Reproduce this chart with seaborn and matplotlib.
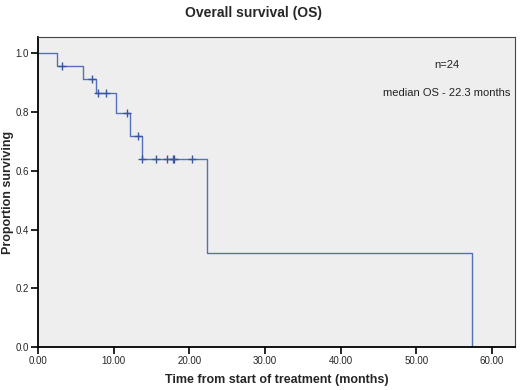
import matplotlib
matplotlib.use('Agg')
import matplotlib.pyplot as plt
import seaborn as sns
import pandas as pd
from matplotlib.ticker import FormatStrFormatter, MultipleLocator

# --- Dados ---
step_times = [0.0, 2.5, 5.9, 7.7, 10.3, 12.1, 13.7, 22.3, 57.4]
step_surv = [1.0, 0.958, 0.912, 0.863, 0.795, 0.720, 0.641, 0.320, 0.0]
censor_times = [3.2, 7.1, 7.9, 9.0, 11.7, 13.2, 13.8, 15.6, 17.0, 17.8, 18.0, 20.3]
censor_surv = [0.958, 0.912, 0.863, 0.863, 0.795, 0.720, 0.641, 0.641, 0.641, 0.641, 0.641, 0.641]
n_patients = 24
median_os = 22.3

df_steps = pd.DataFrame({'t': step_times, 's': step_surv})
df_cens = pd.DataFrame({'t': censor_times, 's': censor_surv})

sns.set_theme(style="ticks")
plt.rcParams['font.family'] = ['Liberation Sans', 'DejaVu Sans']

fig = plt.figure(figsize=(5.2, 3.9), dpi=100)
ax = fig.add_axes([0.073, 0.110, 0.917, 0.795])
ax.set_facecolor('#eeeeee')

line_color = '#5470b8'
sns.lineplot(data=df_steps, x='t', y='s', drawstyle='steps-post', sort=False,
             color=line_color, linewidth=1.0, ax=ax, estimator=None)
sns.scatterplot(data=df_cens, x='t', y='s', marker='+', s=30, color='#3a55a0',
                linewidth=1.0, ax=ax, zorder=3)

ax.set_xlim(0, 63.0)
ax.set_ylim(0, 1.055)
ax.xaxis.set_major_locator(MultipleLocator(10))
ax.yaxis.set_major_locator(MultipleLocator(0.2))
ax.xaxis.set_major_formatter(FormatStrFormatter('%.2f'))
ax.yaxis.set_major_formatter(FormatStrFormatter('%.1f'))
ax.tick_params(axis='both', labelsize=7, length=5, width=1.2, color='black', direction='out', pad=1.5)

for side in ['left', 'bottom']:
    ax.spines[side].set_color('black')
    ax.spines[side].set_linewidth(1.3)
for side in ['top', 'right']:
    ax.spines[side].set_color('#444444')
    ax.spines[side].set_linewidth(0.8)

ax.set_xlabel('Time from start of treatment (months)', fontsize=9, fontweight='bold', labelpad=6)
ax.set_ylabel('Proportion surviving', fontsize=9, fontweight='bold', labelpad=1)
ax.yaxis.set_label_coords(-0.05, 0.5)

ax.text(54.0, 0.959, f'n={n_patients}', fontsize=8, ha='center', va='center', color='#222222')
ax.text(54.0, 0.864, f'median OS - {median_os} months', fontsize=8, ha='center', va='center', color='#222222')

fig.suptitle('Overall survival (OS)', fontsize=10, fontweight='bold', x=0.487, y=0.985)

fig.savefig('out.png', dpi=100)
